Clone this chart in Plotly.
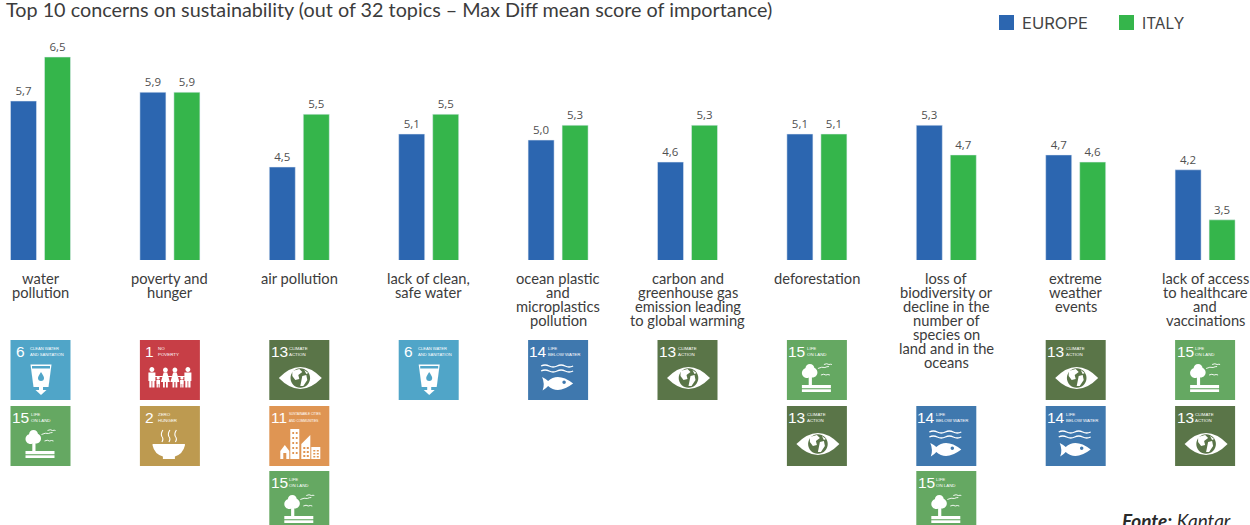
import re
import plotly.graph_objects as go

categories = ["water pollution", "poverty and hunger", "air pollution", "lack of clean, safe water",
              "ocean plastic and microplastics pollution",
              "carbon and greenhouse gas emission leading to global warming", "deforestation",
              "loss of biodiversity or decline in the number of species on land and in the oceans",
              "extreme weather events", "lack of access to healthcare and vaccinations"]
category_lines = [["water", "pollution"], ["poverty and", "hunger"], ["air pollution"],
                  ["lack of clean,", "safe water"], ["ocean plastic", "and", "microplastics", "pollution"],
                  ["carbon and", "greenhouse gas", "emission leading", "to global warming"], ["deforestation"],
                  ["loss of", "biodiversity or", "decline in the", "number of", "species on", "land and in the", "oceans"],
                  ["extreme", "weather", "events"], ["lack of access", "to healthcare", "and", "vaccinations"]]
# bar lengths (the printed labels are rounded)
europe_values = [5.70, 5.86, 4.50, 5.10, 4.99, 4.59, 5.10, 5.26, 4.72, 4.45]
italy_values = [6.50, 5.86, 5.46, 5.46, 5.26, 5.26, 5.10, 4.72, 4.59, 3.54]
europe_labels = ["5,7", "5,9", "4,5", "5,1", "5,0", "4,6", "5,1", "5,3", "4,7", "4,2"]
italy_labels = ["6,5", "5,9", "5,5", "5,5", "5,3", "5,3", "5,1", "4,7", "4,6", "3,5"]
sdg_by_category = [[6, 15], [1, 2], [13, 11, 15], [6], [14], [13], [15, 13], [None, 14, 15], [13, 14], [15, 13]]
sdg_titles = {1: ["NO", "POVERTY"], 2: ["ZERO", "HUNGER"], 6: ["CLEAN WATER", "AND SANITATION"],
              11: ["SUSTAINABLE CITIES", "AND COMMUNITIES"], 13: ["CLIMATE", "ACTION"],
              14: ["LIFE", "BELOW WATER"], 15: ["LIFE", "ON LAND"]}
sdg_colors = {1: "#C73E46", 2: "#BD9A50", 6: "#50A5C8", 11: "#DF9553", 13: "#5A7548", 14: "#3F78AE", 15: "#65A862"}

W, H = 1250, 525
BLUE, GREEN = "#2C66B0", "#35B54B"
INK = "#3c3c3c"
BASE_PX, UNIT_PX, BASE_VAL = 260, 55.0, 2.81
C0, STEP = 40.5, 129.4
ROW_Y = [340, 406, 471]
ICON_FONT = "Liberation Sans, sans-serif"

fig = go.Figure()
fig.add_bar(name="EUROPE", x=categories, y=europe_values, text=europe_labels, marker_color=BLUE)
fig.add_bar(name="ITALY", x=categories, y=italy_values, text=italy_labels, marker_color=GREEN)
fig.update_traces(textposition="outside", cliponaxis=False, textangle=0,
                  textfont=dict(family="Open Sans", size=11.5, color="#505050"))

shapes, notes = [], []


def px(x):
    return x / W


def py(y):
    return 1 - y / H


def text(x, y, s, size, color=INK, family="Lato", xanchor="left", xref="paper"):
    notes.append(dict(x=px(x) if xref == "paper" else x, y=py(y), xref=xref, yref="paper", text=s, showarrow=False,
                      xanchor=xanchor, yanchor="middle", borderpad=0,
                      font=dict(family=family, size=size, color=color)))


def circle(cx, cy, r):
    k = 0.5523 * r
    return (f"M{cx-r},{cy} C{cx-r},{cy-k} {cx-k},{cy-r} {cx},{cy-r} C{cx+k},{cy-r} {cx+r},{cy-k} {cx+r},{cy} "
            f"C{cx+r},{cy+k} {cx+k},{cy+r} {cx},{cy+r} C{cx-k},{cy+r} {cx-r},{cy+k} {cx-r},{cy} Z ")


def rect(x0, y0, x1, y1):
    return f"M{x0},{y0} L{x1},{y0} L{x1},{y1} L{x0},{y1} Z "


def place(d, ox, oy, fill=None, line=None, width=1):
    nums = iter(range(10 ** 6))

    def sub(m):
        i = next(nums)
        v = float(m.group())
        return f"{px(ox + v):.5f}" if i % 2 == 0 else f"{py(oy + v):.5f}"

    path = re.sub(r"-?\d+\.?\d*", sub, d)
    s = dict(type="path", path=path, xref="paper", yref="paper", layer="above", line=dict(width=0))
    if fill:
        s["fillcolor"] = fill
    if line:
        s["line"] = dict(color=line, width=width)
    shapes.append(s)


def parts(items, ox, oy, fill):
    for d in items:
        place(d, ox, oy, fill)


def glyph(n, ox, oy, bg):
    W_ = "#ffffff"
    if n == 6:
        parts(["M20,24.5 L41,24.5 L38,47 L23,47 Z", rect(28.5, 47, 32.5, 51), "M25,50 L36,50 L30.5,55 Z"], ox, oy, W_)
        place(rect(21.5, 26, 39.5, 28.5), ox, oy, bg)
        place("M30.5,32 Q33.5,36.5 33.5,38 Q33.5,41 30.5,41 Q27.5,41 27.5,38 Q27.5,36.5 30.5,32 Z", ox, oy, bg)
    elif n == 1:
        d = [rect(15, 36, 23, 37), rect(28, 36, 32, 37), rect(38, 36, 45, 37)]
        for c in (12, 48):
            d += [circle(c, 29.5, 2.4), rect(c - 3.5, 32.5, c + 3.5, 41), rect(c - 2.6, 41, c - 0.4, 47.5), rect(c + 0.4, 41, c + 2.6, 47.5)]
        for c in (25.5, 35):
            d += [circle(c, 30, 2.4), f"M{c-1.8},32.5 L{c+1.8},32.5 L{c+4.5},42 L{c-4.5},42 Z", rect(c - 2.4, 42, c - 0.6, 47.5), rect(c + 0.6, 42, c + 2.4, 47.5)]
        for c in (18.3, 42):
            d += [circle(c, 38, 1.6), rect(c - 1.8, 40, c + 1.8, 44), rect(c - 1.6, 44, c - 0.3, 47.5), rect(c + 0.3, 44, c + 1.6, 47.5)]
        parts(d, ox, oy, W_)
    elif n == 13:
        place("M9.5,38 Q31,16 52.5,38 Q31,60 9.5,38 Z", ox, oy, W_)
        place(circle(31, 38, 9.8), ox, oy, bg)
        place("M23,31 L30,29 L33,32 L29,35 L30,39 L26,40 L23,36 Z M33,36 L37,35 L38,40 L34,46 L31,46 L32,41 Z M35,30 L39,33 L37,34 Z", ox, oy, W_)
    elif n == 15:
        parts([circle(20, 33, 5), circle(25.5, 32.5, 5), circle(23, 28.5, 4.5), rect(21.8, 37, 25, 45),
               rect(15, 45, 44, 48.2), rect(15, 49.3, 44, 52)], ox, oy, W_)
        place("M31,28.5 Q35,26.5 38,27.5 Q40,26.5 42,26.5 M37,24.5 Q40,23 42,24.5 Q44,24 45,24.5 M34,35 Q37,33.5 39,35 Q41,34 43,35", ox, oy, None, W_, 0.9)
    elif n == 2:
        place("M12.7,38 L45,38 L45,39.5 Q43,48 35,50.5 L35,53 L23,53 L23,50.5 Q14.5,48 12.7,39.5 Z", ox, oy, W_)
        place("M23,24 Q20.5,28 22,30.5 Q24,33 22,36 M30,24 Q27.5,28 29,30.5 Q31,33 29,36 M36.5,24 Q34,28 35.5,30.5 Q37.5,33 35.5,36", ox, oy, None, W_, 1.1)
    elif n == 11:
        parts(["M11,45 L15.5,39 L20,45 L20,53 L11,53 Z", rect(21, 23, 30, 53), "M32,38 L41,29 L41,53 L32,53 Z", rect(42, 41, 51, 53)], ox, oy, W_)
        d = rect(14, 47, 17, 53)
        for r in range(5):
            for c in (23, 26.5):
                d += rect(c, 26 + r * 5, c + 1.8, 28 + r * 5)
        for r in range(3):
            for c in (34, 37.5):
                d += rect(c, 41 + r * 4, c + 2, 43 + r * 4)
            for c in (44, 47.5):
                d += rect(c, 44 + r * 3, c + 2, 45.5 + r * 3)
        place(d, ox, oy, bg)
    elif n == 14:
        place("M13,26 Q17,24 21,26 T29,26 T37,26 T45,26 M13,31 Q17,29 21,31 T29,31 T37,31 T45,31", ox, oy, None, W_, 1.3)
        place("M14,37 Q18,39 20,41 Q30,32 45,43.5 Q30,55 20,46 Q18,48.5 14.5,50.5 Q17,44 14,37 Z", ox, oy, W_)
        place(circle(36, 42.3, 1.7), ox, oy, bg)


def icon(n, ox, oy):
    col = sdg_colors[n]
    place(rect(0, 0, 60, 60), ox, oy, col)
    glyph(n, ox, oy, col)
    text(ox + 10, oy + 11.5, str(n), 15.5, "#ffffff", ICON_FONT, "center")
    tx = {1: 17, 2: 17, 6: 18, 11: 19, 13: 19, 14: 19, 15: 19}[n]
    longest = max(len(t) for t in sdg_titles[n])
    size = min(4.4, (57 - tx) / (0.68 * longest))
    for k, line in enumerate(sdg_titles[n]):
        text(ox + tx, oy + 8 + 6.8 * k, line, size, "#ffffff", ICON_FONT)


for i, lines in enumerate(category_lines):
    for k, line in enumerate(lines):
        text(categories[i], 278 + 14 * k, line, 14.7, INK, "Lato", "center", xref="x")
    left = C0 + STEP * i - 30
    for row, n in enumerate(sdg_by_category[i]):
        if n is not None:
            icon(n, left, ROW_Y[row])

text(5, 9, "Top 10 concerns on sustainability (out of 32 topics – Max Diff mean score of importance)", 19.8, INK)
place(rect(0, 0, 15, 15), 999, 15, BLUE)
place(rect(0, 0, 15, 15), 1119, 15, GREEN)
text(1021, 23, "EUROPE", 16.5, "#444444", "Inter")
text(1141, 23, "ITALY", 15.5, "#444444", "Inter")
text(1121, 520, "<b><i>Fonte:</i></b><i> Kantar</i>", 19, "#2a2a2a")

left_i = -C0 / STEP
fig.update_layout(
    width=W, height=H, margin=dict(l=0, r=0, t=0, b=0), autosize=False,
    paper_bgcolor="#ffffff", plot_bgcolor="#ffffff", showlegend=False,
    barmode="group", bargap=1 - 68 / STEP, bargroupgap=8 / 34,
    xaxis=dict(type="category", categoryorder="array", categoryarray=categories, range=[left_i, left_i + W / STEP],
               showticklabels=False, showgrid=False, zeroline=False, showline=False, ticks=""),
    yaxis=dict(domain=[1 - BASE_PX / H, 1], range=[BASE_VAL, BASE_VAL + BASE_PX / UNIT_PX],
               showticklabels=False, showgrid=False, zeroline=False, showline=False, ticks=""),
    shapes=shapes, annotations=notes,
)
fig.write_html("out.html", config={"displayModeBar": False},
               post_script="document.documentElement.style.overflow='hidden';document.body.style.margin='0';")
